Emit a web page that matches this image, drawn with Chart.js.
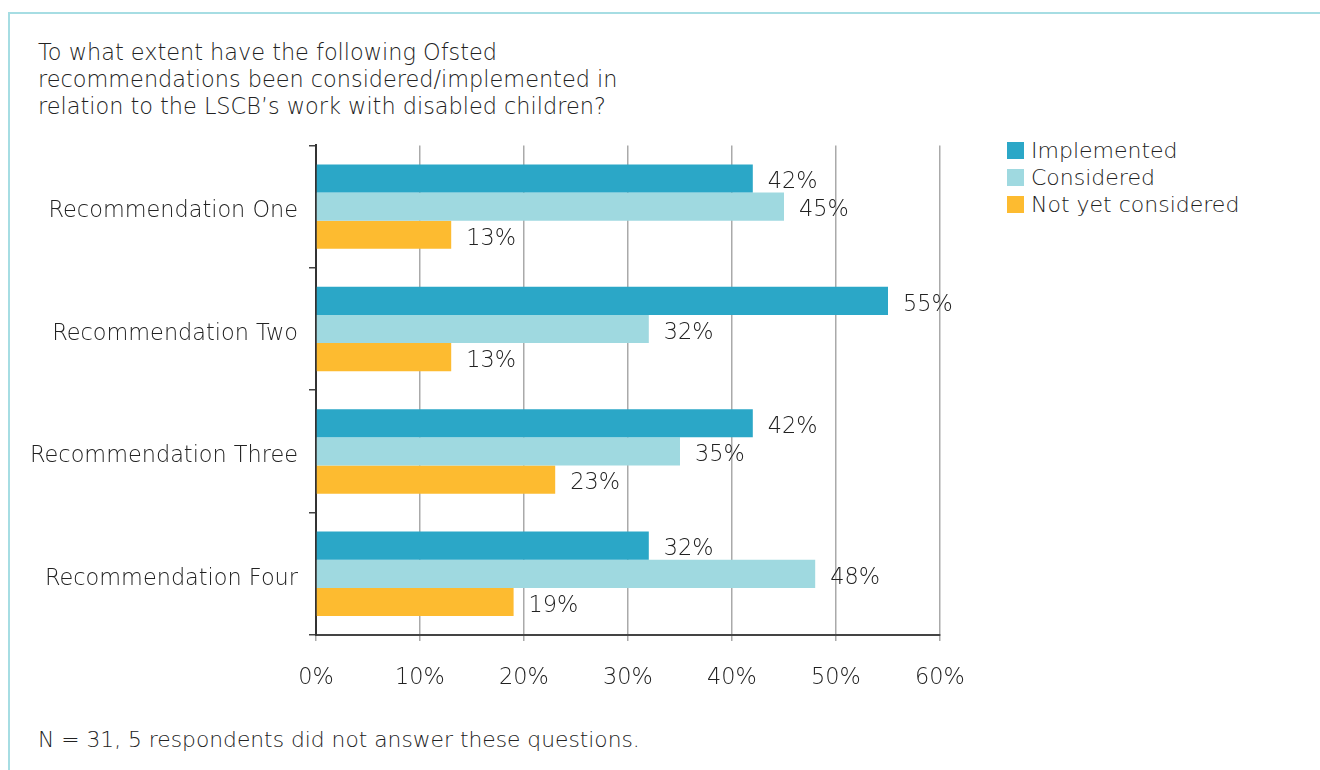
<!DOCTYPE html>
<html>
<head>
<meta charset="utf-8">
<script src="https://cdn.jsdelivr.net/npm/chart.js@4.4.0/dist/chart.umd.min.js"></script>
<style>
    body { margin: 0; width: 1320px; height: 770px; background: #fff; overflow: hidden;
           font-family: "DejaVu Sans", sans-serif; font-weight: 200; color: #222; }
    .frame { position: absolute; left: 8px; top: 12px; width: 1312px; height: 758px;
             border-top: 2px solid #a6dde3; border-left: 2px solid #a6dde3; }
    .title { position: absolute; left: 38px; top: 39px; font-size: 22.4px; line-height: 27px; }
    .note { position: absolute; left: 38px; top: 727px; font-size: 21.8px; }
    .legend { position: absolute; left: 1007px; top: 137px; font-size: 22px; line-height: 27px; }
    .legend span { display: inline-block; width: 17px; height: 17px; margin-right: 7px; vertical-align: -1px; }
    #wrap { position: absolute; left: 0; top: 121px; width: 1000px; height: 589px; }
</style>
</head>
<body>
<div class="frame"></div>
<div class="title">To what extent have the following Ofsted<br>recommendations been considered/implemented in<br>relation to the LSCB’s work with disabled children?</div>
<div class="legend" id="legend"></div>
<div id="wrap"><canvas id="chart"></canvas></div>
<div class="note">N = 31, 5 respondents did not answer these questions.</div>

<script>
const categories = ["Recommendation One", "Recommendation Two", "Recommendation Three", "Recommendation Four"];
const seriesNames = ["Implemented", "Considered", "Not yet considered"];
const implemented = [42, 55, 42, 32];
const considered = [45, 32, 35, 48];
const notYet = [13, 13, 23, 19];
const colors = ["#2ba7c7", "#9fd9e0", "#fdbb30"];
const xTicks = [0, 10, 20, 30, 40, 50, 60];

const fontFamily = "'DejaVu Sans', sans-serif";

// legend
const legendEl = document.getElementById("legend");
seriesNames.forEach((name, i) => {
    const row = document.createElement("div");
    row.innerHTML = `<span style="background:${colors[i]}"></span>${name}`;
    legendEl.appendChild(row);
});

// value labels at the end of each bar
const barLabels = {
    id: "barLabels",
    afterDatasetsDraw(chart) {
        const ctx = chart.ctx;
        ctx.save();
        ctx.font = "200 22.4px " + fontFamily;
        ctx.fillStyle = "#222";
        ctx.textBaseline = "middle";
        chart.data.datasets.forEach((ds, i) => {
            chart.getDatasetMeta(i).data.forEach((bar, j) => {
                ctx.fillText(ds.data[j] + "%", bar.x + 15, bar.y + 4);
            });
        });
        ctx.restore();
    }
};

new Chart(document.getElementById("chart"), {
    type: "bar",
    data: {
        labels: categories,
        datasets: [
            { label: seriesNames[0], data: implemented, backgroundColor: colors[0] },
            { label: seriesNames[1], data: considered, backgroundColor: colors[1] },
            { label: seriesNames[2], data: notYet, backgroundColor: colors[2] }
        ]
    },
    options: {
        indexAxis: "y",
        responsive: true,
        maintainAspectRatio: false,
        animation: false,
        layout: { padding: { top: 5, right: 60 } },
        datasets: { bar: { categoryPercentage: 0.69, barPercentage: 1 } },
        plugins: { legend: { display: false }, tooltip: { enabled: false } },
        scales: {
            x: {
                min: 0,
                max: 60,
                afterBuildTicks: axis => { axis.ticks = xTicks.map(v => ({ value: v })); },
                afterFit: axis => { axis.height = 75; },
                ticks: {
                    callback: v => v + "%",
                    color: "#222",
                    padding: 24,
                    font: { family: fontFamily, size: 22.4, weight: 200 }
                },
                grid: { color: "#aaa", lineWidth: 1.5, tickLength: 6 },
                border: { color: "#444", width: 2 }
            },
            y: {
                afterFit: axis => { axis.width = 316; },
                ticks: {
                    color: "#222",
                    padding: 11,
                    labelOffset: 5,
                    font: { family: fontFamily, size: 22.4, weight: 200 }
                },
                grid: { drawOnChartArea: false, color: "#444", lineWidth: 1.5, tickLength: 7 },
                border: { color: "#333", width: 2 }
            }
        }
    },
    plugins: [barLabels]
});
</script>
</body>
</html>
